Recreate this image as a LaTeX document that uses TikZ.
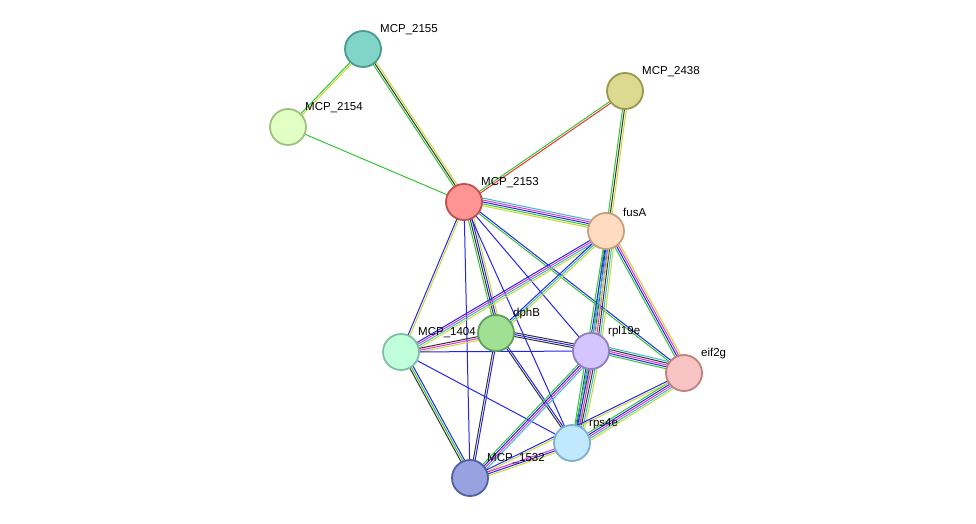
\documentclass[tikz,border=0pt]{standalone}
\usepackage{fontspec}
\setmainfont{Liberation Sans}
\usetikzlibrary{calc}
\definecolor{sgreen}{HTML}{33C633}
\definecolor{sred}{HTML}{EE3333}
\definecolor{sblue}{HTML}{2424EE}
\definecolor{syel}{HTML}{C8D830}
\definecolor{smag}{HTML}{DD33DD}
\definecolor{scyan}{HTML}{33BBCC}
\definecolor{sblack}{HTML}{333333}
\definecolor{fa}{HTML}{80D4C8}\definecolor{da}{HTML}{4A9A90}
\definecolor{fb}{HTML}{E2FFC4}\definecolor{db}{HTML}{A0C080}
\definecolor{fc}{HTML}{DCDA90}\definecolor{dc}{HTML}{9A9850}
\definecolor{fd}{HTML}{FF9494}\definecolor{dd}{HTML}{C05050}
\definecolor{fe}{HTML}{FFDCC0}\definecolor{de}{HTML}{C8A080}
\definecolor{ff}{HTML}{A0E094}\definecolor{df}{HTML}{60A058}
\definecolor{fg}{HTML}{C0FFDC}\definecolor{dg}{HTML}{80C0A0}
\definecolor{fh}{HTML}{D4C4FF}\definecolor{dh}{HTML}{9080C0}
\definecolor{fi}{HTML}{F8C4C4}\definecolor{di}{HTML}{C08080}
\definecolor{fj}{HTML}{C0E8FF}\definecolor{dj}{HTML}{80B0D0}
\definecolor{fk}{HTML}{98A2E0}\definecolor{dk}{HTML}{5060A0}
\tikzset{prot/.style={circle,draw,line width=1.8pt,minimum size=36pt,inner sep=0pt},
  lab/.style={font=\fontsize{11.5}{13}\selectfont,anchor=south west,inner sep=1pt}}
\newcommand*{\edge}[3]{%
  \foreach \c [count=\i] in {#3} {
    \pgfmathsetmacro{\o}{(\i-1)*1.9}
    \draw[\c,line width=1pt] ($(#1)!\o pt!90:(#2)$) -- ($(#2)!\o pt!-90:(#1)$);
  }}

\begin{document}
\begin{tikzpicture}[x=1pt,y=-1pt]
\useasboundingbox (0,0) rectangle (976,524);
\coordinate (n2155) at (363,49);
\coordinate (n2154) at (288,127);
\coordinate (n2438) at (625,91);
\coordinate (n2153) at (464,202);
\coordinate (fusA) at (606,231);
\coordinate (dphB) at (496,333);
\coordinate (n1404) at (401,352);
\coordinate (rpl) at (591,351);
\coordinate (eif) at (684,373);
\coordinate (rps) at (572,443);
\coordinate (n1532) at (470,478);
% edges
\edge{n2155}{n2154}{sgreen,syel}
\edge{n2155}{n2153}{sgreen,sblack,syel}
\edge{n2154}{n2153}{sgreen}
\edge{n2438}{n2153}{sgreen,sred}
\edge{n2438}{fusA}{sgreen,sblack,syel}
\edge{n2153}{fusA}{syel,sgreen,sblue,smag,scyan}
\edge{n2153}{n1404}{sblue,syel}
\edge{n2153}{dphB}{sgreen,sblack,sblue,syel}
\edge{n2153}{rpl}{sblue}
\edge{n2153}{eif}{sgreen,sblue}
\edge{n2153}{rps}{sblue}
\edge{n2153}{n1532}{sblue}
\edge{fusA}{n1404}{sblue,smag,scyan,syel}
\edge{fusA}{dphB}{sblue,scyan,syel}
\edge{fusA}{rpl}{sgreen,sblue,smag,sblack,scyan,syel}
\edge{fusA}{eif}{sgreen,sblue,smag,syel}
\edge{fusA}{rps}{sgreen,sblue,scyan,syel}
\edge{dphB}{n1404}{sblack,smag,syel}
\edge{dphB}{rpl}{sblack,sblue,sblack}
\edge{dphB}{rps}{sblack,sblue}
\edge{dphB}{n1532}{sblack,sblue}
\edge{n1404}{rpl}{sblue}
\edge{n1404}{n1532}{sblack,sgreen,sblue}
\edge{n1404}{rps}{sblue}
\edge{rpl}{eif}{sgreen,sblue,smag,sblack,scyan}
\edge{rpl}{rps}{sgreen,sblue,smag,sblack,scyan,syel}
\edge{rpl}{n1532}{sgreen,sblue,smag,scyan}
\edge{eif}{rps}{sgreen,sblue,smag,scyan,syel}
\edge{eif}{n1532}{sblue,syel}
\edge{rps}{n1532}{smag,sblue,syel}
% proteins
\node[prot,fill=fa,draw=da] (p2155) at (n2155) {};
\node[prot,fill=fb,draw=db] (p2154) at (n2154) {};
\node[prot,fill=fc,draw=dc] (p2438) at (n2438) {};
\node[prot,fill=fd,draw=dd] (p2153) at (n2153) {};
\node[prot,fill=fe,draw=de] (pfusA) at (fusA) {};
\node[prot,fill=ff,draw=df] (pdphB) at (dphB) {};
\node[prot,fill=fg,draw=dg] (p1404) at (n1404) {};
\node[prot,fill=fh,draw=dh] (prpl) at (rpl) {};
\node[prot,fill=fi,draw=di] (peif) at (eif) {};
\node[prot,fill=fj,draw=dj] (prps) at (rps) {};
\node[prot,fill=fk,draw=dk] (p1532) at (n1532) {};
% labels
\node[lab] at ($(n2155)+(16,-13)$) {MCP\_2155};
\node[lab] at ($(n2154)+(16,-13)$) {MCP\_2154};
\node[lab] at ($(n2438)+(16,-13)$) {MCP\_2438};
\node[lab] at ($(n2153)+(16,-13)$) {MCP\_2153};
\node[lab] at ($(fusA)+(16,-13)$) {fusA};
\node[lab] at ($(dphB)+(16,-13)$) {dphB};
\node[lab] at ($(n1404)+(16,-13)$) {MCP\_1404};
\node[lab] at ($(rpl)+(16,-13)$) {rpl19e};
\node[lab] at ($(eif)+(16,-13)$) {eif2g};
\node[lab] at ($(rps)+(16,-13)$) {rps4e};
\node[lab] at ($(n1532)+(16,-13)$) {MCP\_1532};
\end{tikzpicture}
\end{document}
